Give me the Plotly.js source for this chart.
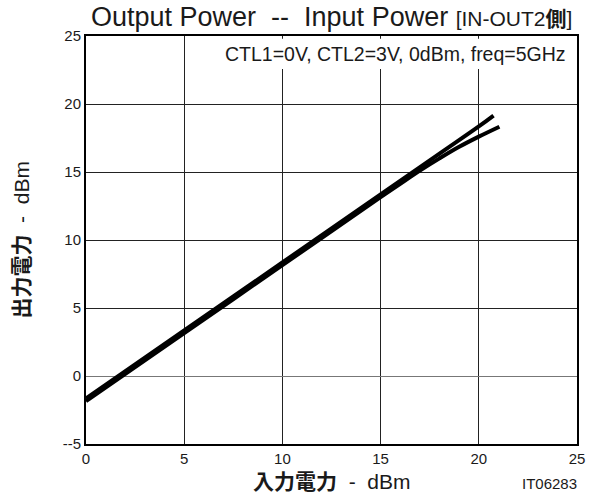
<!DOCTYPE html>
<html>
<head>
<meta charset="utf-8">
<script src="https://cdn.plot.ly/plotly-3.0.1.min.js"></script>
<style>html,body{margin:0;padding:0;background:#fff;}</style>
</head>
<body>
<div id="chart" style="width:597px;height:495px;"></div>
<script>
// Data
const linearIn = [0, 5, 10, 15, 18, 20, 20.75];
const linearOut = [-1.65, 3.35, 8.35, 13.35, 16.35, 18.35, 19.15];
const compIn = [0, 5, 10, 15, 16, 17, 18, 19, 20, 21.05];
const compOut = [-1.85, 3.15, 8.15, 13.15, 14.13, 15.1, 16.0, 16.85, 17.6, 18.33];
const xTickVals = [0, 5, 10, 15, 20, 25];
const xTickText = ['0', '5', '10', '15', '20', '25'];
const yTickVals = [-5, 0, 5, 10, 15, 20, 25];
const yTickText = ['--5', '0', '5', '10', '15', '20', '25'];

const fontLatin = 'Liberation Sans, Arial, sans-serif';
const fontCJK = 'Liberation Sans, Noto Sans CJK JP, sans-serif';
const txt = '#1a1a1a';

const traces = [
  {x: linearIn, y: linearOut, mode: 'lines', line: {color: '#000', width: 4, shape: 'spline'}, hoverinfo: 'none'},
  {x: compIn, y: compOut, mode: 'lines', line: {color: '#000', width: 4, shape: 'spline'}, hoverinfo: 'none'}
];

const layout = {
  width: 597, height: 495,
  margin: {l: 86, r: 20, t: 36, b: 51},
  paper_bgcolor: '#fff', plot_bgcolor: '#fff',
  showlegend: false,
  font: {family: fontLatin, color: txt, size: 15},
  xaxis: {
    range: [0, 25], tickvals: xTickVals, ticktext: xTickText,
    showgrid: true, gridcolor: '#222', gridwidth: 1,
    showline: true, linecolor: '#000', linewidth: 2, mirror: true,
    ticks: '', zeroline: false, fixedrange: true,
    tickfont: {size: 15, color: txt, family: fontLatin}
  },
  yaxis: {
    range: [-5, 25], tickvals: yTickVals, ticktext: yTickText,
    showgrid: true, gridcolor: '#222', gridwidth: 1,
    showline: true, linecolor: '#000', linewidth: 2, mirror: true,
    ticks: '', zeroline: true, zerolinecolor: '#777', zerolinewidth: 1, fixedrange: true,
    tickfont: {size: 15, color: txt, family: fontLatin}
  },
  shapes: [
    {type: 'rect', xref: 'paper', yref: 'paper', x0: 0.27, x1: 0.997, y0: 0.919, y1: 0.993,
     fillcolor: '#fff', line: {width: 0}, layer: 'above'}
  ],
  annotations: [
    {xref: 'paper', yref: 'paper', x: 0.5, y: 1.0466, xanchor: 'center', yanchor: 'middle', showarrow: false,
     text: 'Output Power&nbsp; --&nbsp; Input Power <span style="font-size:21px">[IN-OUT2<b>側</b>]</span>',
     font: {size: 27, color: txt, family: fontCJK}},
    {xref: 'paper', yref: 'paper', x: 0.982, y: 0.955, xanchor: 'right', yanchor: 'middle', showarrow: false,
     text: 'CTL1=0V, CTL2=3V, 0dBm, freq=5GHz',
     font: {size: 19.5, color: txt, family: fontLatin}},
    {xref: 'paper', yref: 'paper', x: 0.5, y: -0.0907, xanchor: 'center', yanchor: 'middle', showarrow: false,
     text: '<b>入力電力</b>&nbsp; -&nbsp; dBm',
     font: {size: 21, color: txt, family: fontCJK}},
    {xref: 'paper', yref: 'paper', x: -0.1303, y: 0.501, xanchor: 'center', yanchor: 'middle', showarrow: false,
     textangle: -90,
     text: '<b>出力電力</b>&nbsp; -&nbsp; dBm',
     font: {size: 21, color: txt, family: fontCJK}},
    {xref: 'paper', yref: 'paper', x: 1.005, y: -0.0956, xanchor: 'right', yanchor: 'middle', showarrow: false,
     text: 'IT06283', font: {size: 15, color: txt, family: fontLatin}}
  ]
};

Plotly.newPlot('chart', traces, layout, {displayModeBar: false, staticPlot: true});
</script>
</body>
</html>
